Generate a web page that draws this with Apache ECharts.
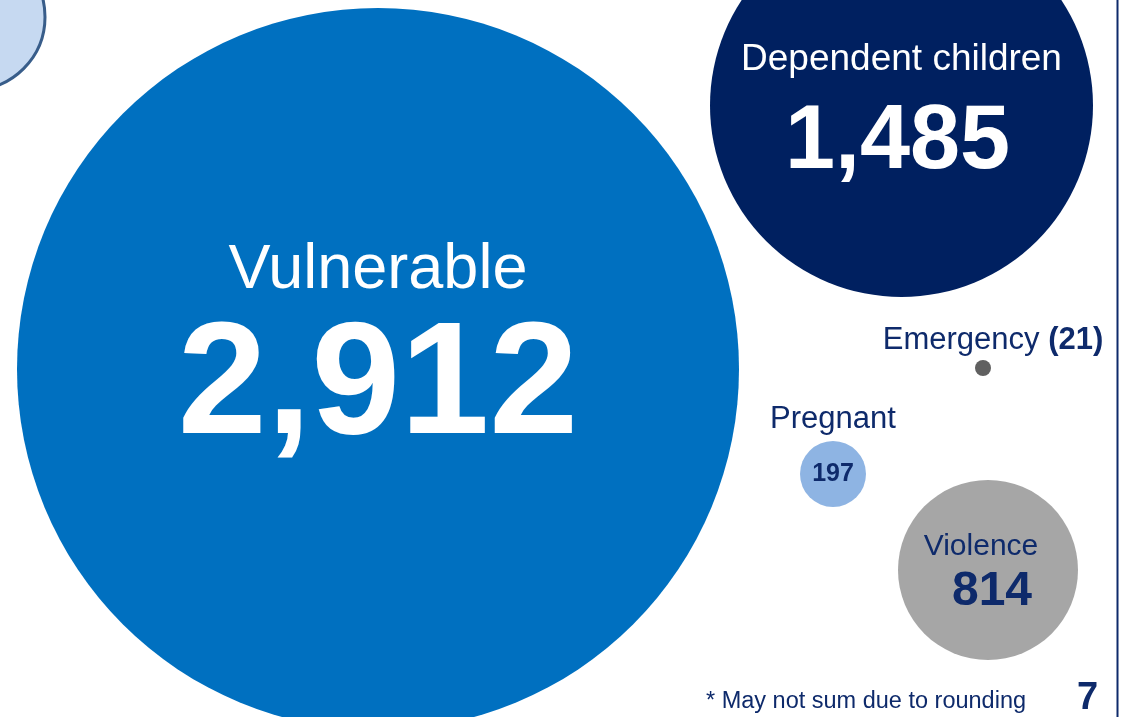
<!DOCTYPE html>
<html>
<head>
<meta charset="utf-8">
<script src="https://cdn.jsdelivr.net/npm/echarts@6/dist/echarts.min.js"></script>
<style>
html,body{margin:0;padding:0;background:#fff;}
#main{width:1123px;height:717px;}
</style>
</head>
<body>
<div id="main"></div>
<script>
// Data
const categories = ['', 'Vulnerable', 'Dependent children', 'Emergency', 'Pregnant', 'Violence'];
const counts = [null, 2912, 1485, 21, 197, 814];
const footnote = '* May not sum due to rounding';
const pageNumber = '7';

// Layout (bubble centres on a 1123 x 717 layout scale, diameters in px)
const bubbleX = [-28, 378, 901.5, 983, 833, 988];
const bubbleY = [17, 369, 105.5, 368, 474, 570];
const bubbleDiameter = [146, 722, 383, 16, 66, 180];
const bubbleColor = ['#C6D9F1', '#0070C0', '#002060', '#606060', '#8EB4E3', '#A6A6A6'];

const NAVY = '#0E2A6B';
const FONT = '"Liberation Sans", Arial, sans-serif';
const fmt = v => v.toLocaleString('en-US');

const insideLabels = [
  { show: false },
  { show: true, position: 'inside', offset: [0, -15],
    formatter: p => '{n|' + p.name + '}\n{v|' + fmt(counts[p.dataIndex]) + '}',
    rich: { n: { color: '#fff', fontSize: 63, lineHeight: 70, fontFamily: FONT },
            v: { color: '#fff', fontSize: 160, fontWeight: 'bold', lineHeight: 166, fontFamily: FONT } } },
  { show: true, position: 'inside', offset: [0, 15],
    formatter: p => '{n|' + p.name + '}\n{v|' + fmt(counts[p.dataIndex]) + '}',
    rich: { n: { color: '#fff', fontSize: 37, lineHeight: 45, fontFamily: FONT },
            v: { color: '#fff', fontSize: 90, fontWeight: 'bold', lineHeight: 121, fontFamily: FONT, padding: [0, 8, 0, 0] } } },
  { show: false },
  { show: true, position: 'inside',
    formatter: p => '{v|' + fmt(counts[p.dataIndex]) + '}',
    rich: { v: { color: NAVY, fontSize: 25, fontWeight: 'bold', fontFamily: FONT } } },
  { show: true, position: 'inside', offset: [0, 4],
    formatter: p => '{n|' + p.name + '}\n{v|' + fmt(counts[p.dataIndex]) + '}',
    rich: { n: { color: NAVY, fontSize: 30, lineHeight: 36, fontFamily: FONT, padding: [0, 14, 0, 0] },
            v: { color: NAVY, fontSize: 48, fontWeight: 'bold', lineHeight: 54, fontFamily: FONT, padding: [0, 0, 0, 8] } } }
];

const outsideLabels = [
  { show: false }, { show: false }, { show: false },
  { show: true, position: 'top', distance: 4, offset: [10, 0],
    formatter: p => '{n|' + p.name + ' }{v|(' + fmt(counts[p.dataIndex]) + ')}',
    rich: { n: { color: NAVY, fontSize: 31, fontFamily: FONT },
            v: { color: NAVY, fontSize: 31, fontWeight: 'bold', fontFamily: FONT } } },
  { show: true, position: 'top', distance: 6, offset: [0, 0],
    formatter: p => '{n|' + p.name + '}',
    rich: { n: { color: NAVY, fontSize: 31, fontFamily: FONT } } },
  { show: false }
];

const mainData = categories.map((c, i) => ({
  name: c,
  value: [bubbleX[i], bubbleY[i]],
  symbolSize: bubbleDiameter[i],
  itemStyle: i === 0
    ? { color: bubbleColor[i], borderColor: '#385D8A', borderWidth: 3, opacity: 1 }
    : { color: bubbleColor[i], opacity: 1 },
  label: insideLabels[i]
}));
const labelData = categories.map((c, i) => ({
  name: c,
  value: [bubbleX[i], bubbleY[i]],
  symbolSize: bubbleDiameter[i],
  itemStyle: { color: 'rgba(0,0,0,0)', opacity: 1 },
  label: outsideLabels[i]
}));

const chart = echarts.init(document.getElementById('main'), null, { renderer: 'canvas' });
chart.setOption({
  backgroundColor: '#fff',
  animation: false,
  grid: { left: 0, right: 0, top: 0, bottom: 0 },
  xAxis: { type: 'value', min: 0, max: 1123, show: false },
  yAxis: { type: 'value', min: 0, max: 717, inverse: true, show: false },
  title: [
    { text: footnote, left: 706, top: 690, textStyle: { color: NAVY, fontSize: 23.5, fontWeight: 'normal', fontFamily: FONT }, padding: 0 },
    { text: pageNumber, left: 1077, top: 680, textStyle: { color: NAVY, fontSize: 38, fontWeight: 'bold', fontFamily: FONT }, padding: 0 }
  ],
  graphic: [
    { type: 'line', shape: { x1: 1117.5, y1: 0, x2: 1117.5, y2: 717 }, style: { stroke: NAVY, lineWidth: 2 }, z: 10 }
  ],
  series: [
    { type: 'scatter', clip: false, data: mainData, emphasis: { disabled: true }, z: 2 },
    { type: 'scatter', clip: false, data: labelData, emphasis: { disabled: true }, silent: true, z: 3 }
  ]
});
</script>
</body>
</html>
